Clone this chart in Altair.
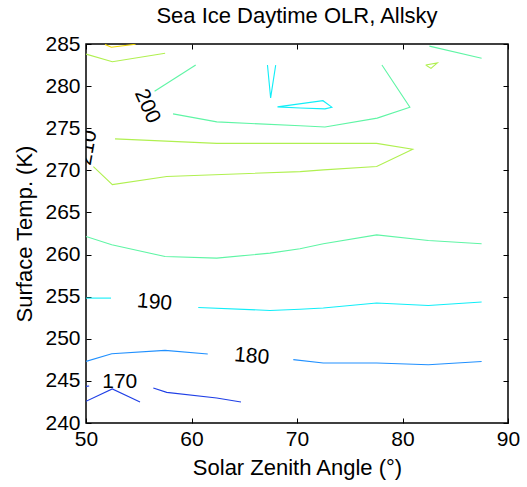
import altair as alt
import pandas as pd

# ---- data ----
levels = [170, 180, 190, 200, 210, 220]
level_colors = ["#1f3fe6", "#2090ff", "#10eef8", "#5ff5a5", "#b0f050", "#f0d800"]

segments = [
    # (name, level, xs, ys)
    ("c220_a", 220, [51.8, 52.4, 54.7], [284.95, 284.62, 284.97]),
    ("c210_a", 210, [50.0, 52.5, 57.5], [283.8, 282.9, 283.9]),
    ("c200_a", 200, [56.5, 60.4], [279.4, 282.5]),
    ("c200_b", 200, [58.25, 62.4, 70.3, 72.65, 77.6, 80.7, 78.05],
                    [276.7, 275.75, 275.3, 275.15, 276.2, 277.5, 282.5]),
    ("c200_c", 200, [82.55, 87.5], [284.75, 283.3]),
    ("c210_b", 210, [82.2, 82.7, 83.3, 82.2], [282.5, 282.1, 282.75, 282.5]),
    ("c190_a", 190, [67.2, 67.5, 67.98], [282.5, 278.6, 282.5]),
    ("c190_b", 190, [68.15, 72.46, 73.3, 72.65, 70.3, 68.15],
                    [277.53, 278.27, 277.5, 277.3, 277.4, 277.53]),
    ("c210_c", 210, [52.75, 62.4, 77.55, 80.97, 77.55, 72.5, 70.3, 57.65, 52.5, 50.7],
                    [273.73, 273.2, 273.2, 272.5, 270.45, 270.05, 269.85, 269.26, 268.3, 270.45]),
    ("c200_d", 200, [50.0, 52.44, 57.49, 62.39, 67.44, 70.28, 72.5, 77.55, 82.45, 87.5],
                    [262.14, 261.16, 259.77, 259.58, 260.17, 260.68, 261.28, 262.34, 261.67, 261.28]),
    ("c190_c", 190, [50.0, 52.37], [254.83, 254.83]),
    ("c190_d", 190, [60.64, 67.44, 70.28, 72.49, 77.55, 82.45, 87.5],
                    [253.72, 253.36, 253.5, 253.65, 254.24, 253.96, 254.36]),
    ("c180_a", 180, [50.0, 52.44, 57.49, 61.54], [247.31, 248.23, 248.62, 248.19]),
    ("c180_b", 180, [69.65, 72.49, 77.55, 82.45, 87.5], [247.52, 247.12, 247.12, 246.92, 247.31]),
    ("c170_a", 170, [50.0, 50.3], [244.35, 244.4]),
    ("c170_b", 170, [50.0, 52.49, 55.12], [242.57, 244.04, 242.5]),
    ("c170_c", 170, [56.38, 57.65, 62.39, 64.69], [244.16, 243.64, 242.97, 242.5]),
]

label_text = ["170", "180", "190", "200", "210"]
label_x = [53.2, 65.7, 56.5, 55.8, 50.15]
label_y = [244.9, 247.9, 254.3, 277.6, 272.7]
label_angle = [0, 5, 5, 66, 280]

x_ticks = [50, 60, 70, 80, 90]
y_ticks = [240, 245, 250, 255, 260, 265, 270, 275, 280, 285]

# ---- build tables ----
rows = []
for name, lev, xs_, ys_ in segments:
    for i, (xv, yv) in enumerate(zip(xs_, ys_)):
        rows.append({"seg": name, "level": lev, "i": i, "x": xv, "y": yv})
df = pd.DataFrame(rows)
labels = pd.DataFrame({"t": label_text, "x": label_x, "y": label_y, "a": label_angle})

W, H = 422, 379
FONT = "Liberation Sans"
xs = alt.Scale(domain=[50, 90], nice=False, zero=False)
ys = alt.Scale(domain=[240, 285], nice=False, zero=False)

lines = alt.Chart(df).mark_line(strokeWidth=1.1, clip=True).encode(
    x=alt.X("x:Q", scale=xs, axis=alt.Axis(
        values=x_ticks, title="Solar Zenith Angle (°)", grid=False, ticks=False, domain=False,
        labelFont=FONT, labelFontSize=21, labelColor="black", labelPadding=5, labelFlush=False,
        titleFont=FONT, titleFontSize=22, titleFontWeight="normal", titleColor="black", titlePadding=8)),
    y=alt.Y("y:Q", scale=ys, axis=alt.Axis(
        values=y_ticks, title="Surface Temp. (K)", grid=False, ticks=False, domain=False,
        labelFont=FONT, labelFontSize=21, labelColor="black", labelPadding=6, labelFlush=False,
        titleFont=FONT, titleFontSize=22, titleFontWeight="normal", titleColor="black", titlePadding=8)),
    detail="seg:N",
    order="i:Q",
    color=alt.Color("level:O", scale=alt.Scale(domain=levels, range=level_colors), legend=None),
)

texts = alt.Chart(labels).mark_text(font=FONT, fontSize=21, color="black", clip=True,
                                    align="center", baseline="middle").encode(
    x=alt.X("x:Q", scale=xs, axis=None),
    y=alt.Y("y:Q", scale=ys, axis=None),
    text="t:N",
    angle=alt.Angle("a:Q", scale=None),
)

def tick_layer(xaxis, yaxis):
    return alt.Chart(df).mark_point(opacity=0).encode(
        x=alt.X("x:Q", scale=xs, axis=xaxis),
        y=alt.Y("y:Q", scale=ys, axis=yaxis),
    )

tk = dict(labels=False, ticks=True, tickSize=5, tickColor="black", tickWidth=1,
          domain=False, grid=False, title=None)
t_bottom = tick_layer(alt.Axis(orient="top", offset=-H, values=x_ticks, **tk), None)
t_top = tick_layer(alt.Axis(orient="bottom", offset=-H, values=x_ticks, **tk), None)
t_left = tick_layer(None, alt.Axis(orient="right", offset=-W, values=y_ticks, **tk))
t_right = tick_layer(None, alt.Axis(orient="left", offset=-W, values=y_ticks, **tk))

chart = alt.layer(lines, texts, t_bottom, t_top, t_left, t_right).resolve_axis(
    x="independent", y="independent"
).properties(
    width=W, height=H,
    autosize=alt.AutoSizeParams(type="none"),
    padding={"left": 86, "top": 44, "right": 19, "bottom": 64},
    title=alt.TitleParams("Sea Ice Daytime OLR, Allsky", font=FONT, fontSize=22,
                          fontWeight="normal", color="black", anchor="middle", offset=5),
).configure_view(stroke="black", strokeWidth=1.5)

chart.save("out.html", embed_options={"renderer": "svg", "actions": False})
